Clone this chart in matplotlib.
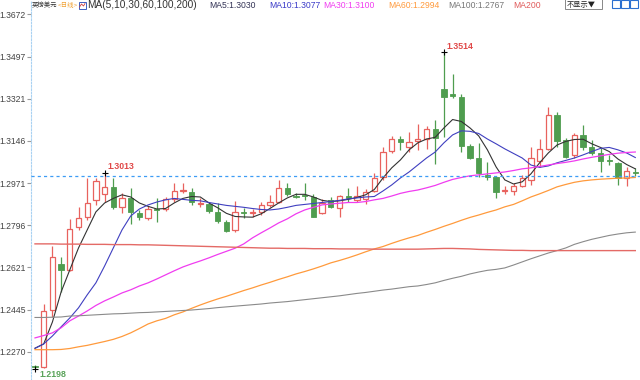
"""
GBP/USD daily candlestick chart with moving averages (MA5 ... MA200).
"""

import numpy as np
import matplotlib
matplotlib.use("Agg")
import matplotlib.pyplot as plt
from matplotlib.patches import Rectangle

plt.rcParams['font.family'] = ['Liberation Sans', 'Noto Sans CJK SC', 'DejaVu Sans']

symbol = "英镑美元"
period = "<日线>"
ma_title = "MA(5,10,30,60,100,200)"

# daily candles, oldest -> newest
opens = [1.2212, 1.2205, 1.2443, 1.2636, 1.2610, 1.2787, 1.2831, 1.2901, 1.2926, 1.2956,
         1.2873, 1.2907, 1.2847, 1.2824, 1.2864, 1.2862, 1.2904, 1.2937, 1.2935, 1.2885,
         1.2883, 1.2852, 1.2811, 1.2776, 1.2852, 1.2846, 1.2852, 1.2880, 1.2894, 1.2951,
         1.2918, 1.2922, 1.2911, 1.2846, 1.2901, 1.2866, 1.2917, 1.2899, 1.2904, 1.2938,
         1.2997, 1.3105, 1.3154, 1.3121, 1.3147, 1.3154, 1.3195, 1.3361, 1.3340, 1.3330,
         1.3125, 1.3074, 1.3003, 1.2998, 1.2938, 1.2939, 1.2959, 1.2984, 1.3064, 1.3112,
         1.3254, 1.3150, 1.3088, 1.3171, 1.3122, 1.3095, 1.3068, 1.3053, 1.2991, 1.3017]
highs = [1.2214, 1.2467, 1.2711, 1.2665, 1.2821, 1.2873, 1.2991, 1.2990, 1.3013, 1.2990,
         1.2930, 1.2951, 1.2859, 1.2876, 1.2909, 1.2913, 1.2973, 1.2970, 1.2949, 1.2908,
         1.2894, 1.2887, 1.2818, 1.2898, 1.2866, 1.2862, 1.2892, 1.2922, 1.2984, 1.2972,
         1.2929, 1.2970, 1.2926, 1.2905, 1.2912, 1.2922, 1.2951, 1.2959, 1.2946, 1.3012,
         1.3120, 1.3167, 1.3167, 1.3183, 1.3216, 1.3208, 1.3233, 1.3514, 1.3425, 1.3341,
         1.3134, 1.3137, 1.3060, 1.3000, 1.2959, 1.2971, 1.3005, 1.3122, 1.3153, 1.3289,
         1.3268, 1.3157, 1.3178, 1.3213, 1.3150, 1.3117, 1.3088, 1.3059, 1.3039, 1.3034]
lows = [1.2198, 1.2203, 1.2416, 1.2519, 1.2606, 1.2776, 1.2817, 1.2880, 1.2894, 1.2862,
        1.2845, 1.2800, 1.2818, 1.2818, 1.2811, 1.2855, 1.2894, 1.2929, 1.2880, 1.2873,
        1.2845, 1.2804, 1.2769, 1.2769, 1.2825, 1.2831, 1.2838, 1.2872, 1.2887, 1.2917,
        1.2908, 1.2900, 1.2829, 1.2843, 1.2866, 1.2831, 1.2894, 1.2894, 1.2884, 1.2934,
        1.2984, 1.3096, 1.3109, 1.3102, 1.3109, 1.3113, 1.3050, 1.3164, 1.3324, 1.3102,
        1.3070, 1.2998, 1.2985, 1.2908, 1.2926, 1.2922, 1.2954, 1.2963, 1.3039, 1.3109,
        1.3122, 1.3074, 1.3074, 1.3109, 1.3088, 1.3018, 1.3046, 1.2963, 1.2959, 1.3000]
closes = [1.2204, 1.2440, 1.2665, 1.2610, 1.2781, 1.2825, 1.2887, 1.2981, 1.2956, 1.2873,
          1.2910, 1.2852, 1.2828, 1.2863, 1.2860, 1.2903, 1.2939, 1.2942, 1.2894, 1.2888,
          1.2856, 1.2815, 1.2772, 1.2852, 1.2846, 1.2849, 1.2880, 1.2894, 1.2949, 1.2926,
          1.2913, 1.2918, 1.2831, 1.2889, 1.2870, 1.2917, 1.2907, 1.2917, 1.2935, 1.2991,
          1.3102, 1.3154, 1.3140, 1.3143, 1.3153, 1.3195, 1.3157, 1.3330, 1.3333, 1.3125,
          1.3077, 1.3012, 1.2998, 1.2934, 1.2941, 1.2959, 1.2991, 1.3074, 1.3112, 1.3254,
          1.3147, 1.3081, 1.3171, 1.3122, 1.3097, 1.3064, 1.3064, 1.2991, 1.3021, 1.3011]

# moving averages as drawn on the chart
ma5 = [1.2284, 1.2302, 1.2393, 1.2518, 1.2610, 1.2701, 1.2776, 1.2851, 1.2888, 1.2907,
       1.2922, 1.2913, 1.2888, 1.2874, 1.2863, 1.2865, 1.2888, 1.2907, 1.2915, 1.2913,
       1.2888, 1.2868, 1.2845, 1.2832, 1.2830, 1.2829, 1.2843, 1.2865, 1.2888, 1.2909,
       1.2924, 1.2924, 1.2913, 1.2899, 1.2894, 1.2897, 1.2903, 1.2911, 1.2922, 1.2944,
       1.2992, 1.3034, 1.3067, 1.3109, 1.3138, 1.3154, 1.3161, 1.3200, 1.3235, 1.3227,
       1.3200, 1.3167, 1.3109, 1.3038, 1.2984, 1.2967, 1.2976, 1.3009, 1.3055, 1.3096,
       1.3129, 1.3144, 1.3152, 1.3153, 1.3134, 1.3119, 1.3102, 1.3071, 1.3048, 1.3030]
ma10 = [1.2284, 1.2302, 1.2335, 1.2373, 1.2410, 1.2452, 1.2506, 1.2556, 1.2626, 1.2701,
        1.2776, 1.2834, 1.2863, 1.2880, 1.2892, 1.2901, 1.2907, 1.2903, 1.2899, 1.2897,
        1.2890, 1.2884, 1.2878, 1.2874, 1.2870, 1.2865, 1.2861, 1.2859, 1.2863, 1.2870,
        1.2878, 1.2882, 1.2886, 1.2890, 1.2894, 1.2899, 1.2905, 1.2909, 1.2913, 1.2915,
        1.2938, 1.2963, 1.2992, 1.3017, 1.3046, 1.3075, 1.3100, 1.3138, 1.3171, 1.3188,
        1.3186, 1.3177, 1.3154, 1.3134, 1.3113, 1.3094, 1.3075, 1.3046, 1.3036, 1.3042,
        1.3055, 1.3065, 1.3075, 1.3088, 1.3102, 1.3115, 1.3119, 1.3109, 1.3096, 1.3077]
ma30 = [1.2327, 1.2337, 1.2348, 1.2369, 1.2398, 1.2418, 1.2439, 1.2462, 1.2481, 1.2497,
        1.2514, 1.2527, 1.2543, 1.2556, 1.2572, 1.2589, 1.2606, 1.2622, 1.2635, 1.2647,
        1.2660, 1.2674, 1.2687, 1.2700, 1.2718, 1.2743, 1.2764, 1.2784, 1.2805, 1.2822,
        1.2843, 1.2859, 1.2870, 1.2880, 1.2884, 1.2887, 1.2890, 1.2890, 1.2894, 1.2901,
        1.2907, 1.2917, 1.2928, 1.2936, 1.2942, 1.2951, 1.2961, 1.2974, 1.2986, 1.2994,
        1.3001, 1.3005, 1.3009, 1.3013, 1.3017, 1.3023, 1.3030, 1.3034, 1.3040, 1.3046,
        1.3052, 1.3057, 1.3063, 1.3071, 1.3078, 1.3084, 1.3090, 1.3095, 1.3098, 1.3100]
ma60 = [1.2278, 1.2278, 1.2278, 1.2279, 1.2283, 1.2290, 1.2296, 1.2304, 1.2312, 1.2321,
        1.2333, 1.2348, 1.2366, 1.2385, 1.2398, 1.2408, 1.2423, 1.2435, 1.2450, 1.2464,
        1.2477, 1.2489, 1.2500, 1.2512, 1.2524, 1.2535, 1.2547, 1.2558, 1.2570, 1.2581,
        1.2593, 1.2603, 1.2614, 1.2626, 1.2639, 1.2649, 1.2660, 1.2672, 1.2685, 1.2697,
        1.2707, 1.2720, 1.2732, 1.2743, 1.2753, 1.2766, 1.2778, 1.2791, 1.2803, 1.2816,
        1.2828, 1.2838, 1.2849, 1.2859, 1.2872, 1.2882, 1.2897, 1.2913, 1.2926, 1.2940,
        1.2955, 1.2965, 1.2974, 1.2980, 1.2984, 1.2987, 1.2989, 1.2991, 1.2992, 1.2994]
ma100 = [1.2412, 1.2412, 1.2413, 1.2414, 1.2418, 1.2419, 1.2421, 1.2423, 1.2425, 1.2427,
         1.2428, 1.2430, 1.2432, 1.2433, 1.2435, 1.2437, 1.2439, 1.2441, 1.2443, 1.2446,
         1.2449, 1.2453, 1.2456, 1.2459, 1.2462, 1.2465, 1.2468, 1.2472, 1.2475, 1.2478,
         1.2482, 1.2486, 1.2490, 1.2494, 1.2498, 1.2502, 1.2507, 1.2512, 1.2516, 1.2521,
         1.2526, 1.2530, 1.2535, 1.2540, 1.2543, 1.2549, 1.2556, 1.2566, 1.2575, 1.2583,
         1.2593, 1.2601, 1.2608, 1.2612, 1.2618, 1.2630, 1.2643, 1.2656, 1.2668, 1.2680,
         1.2690, 1.2701, 1.2716, 1.2727, 1.2737, 1.2745, 1.2753, 1.2759, 1.2764, 1.2767]
ma200 = [1.2718, 1.2718, 1.2718, 1.2717, 1.2717, 1.2717, 1.2716, 1.2716, 1.2716, 1.2715,
         1.2715, 1.2715, 1.2714, 1.2714, 1.2713, 1.2712, 1.2711, 1.2710, 1.2709, 1.2708,
         1.2707, 1.2706, 1.2705, 1.2704, 1.2703, 1.2702, 1.2701, 1.2700, 1.2700, 1.2699,
         1.2699, 1.2699, 1.2698, 1.2698, 1.2698, 1.2697, 1.2697, 1.2697, 1.2697, 1.2696,
         1.2696, 1.2696, 1.2696, 1.2696, 1.2696, 1.2697, 1.2698, 1.2699, 1.2699, 1.2698,
         1.2697, 1.2695, 1.2694, 1.2693, 1.2692, 1.2691, 1.2691, 1.2690, 1.2690, 1.2690,
         1.2690, 1.2690, 1.2690, 1.2690, 1.2690, 1.2690, 1.2690, 1.2690, 1.2690, 1.2690]

y_ticks = [1.2270, 1.2445, 1.2621, 1.2796, 1.2971, 1.3146, 1.3321, 1.3497, 1.3672]
last_price = 1.2999

UP = '#e8625e'
DOWN = '#4f9d4f'
ma_styles = [  # name, values, color, width, show value in header
    ('MA5', ma5, '#333333', 0.8, True),
    ('MA10', ma10, '#3f3fc0', 0.8, True),
    ('MA30', ma30, '#f03cf0', 0.9, True),
    ('MA60', ma60, '#ff9a3c', 0.9, True),
    ('MA100', ma100, '#8a8a8a', 0.8, True),
    ('MA200', ma200, '#e46a66', 1.0, False),
]
label_colors = ['#333355', '#3a3ac8', '#f03cf0', '#ff9a3c', '#777777', '#e05a5a']

W, H = 640, 380
fig = plt.figure(figsize=(W / 100, H / 100), dpi=100)
ax = fig.add_axes([31 / W, 0, 1 - 31 / W, 1])

x = np.arange(len(closes))
o = np.array(opens); h = np.array(highs); l = np.array(lows); c = np.array(closes)
up = c >= o
body_lo = np.minimum(o, c)
body_hi = np.maximum(o, c)
bw = 0.6

# wicks
ax.vlines(x[~up], l[~up], h[~up], color=DOWN, lw=0.9, zorder=2)
ax.vlines(x[up], l[up], body_lo[up], color=UP, lw=0.9, zorder=2)
ax.vlines(x[up], body_hi[up], h[up], color=UP, lw=0.9, zorder=2)

# bodies
for i in x:
    height = max(body_hi[i] - body_lo[i], 0.00004)
    if up[i]:
        ax.add_patch(Rectangle((i - bw / 2, body_lo[i]), bw, height,
                               facecolor='white', edgecolor=UP, lw=0.9, zorder=3))
    else:
        ax.add_patch(Rectangle((i - bw / 2, body_lo[i]), bw, height,
                               facecolor=DOWN, edgecolor=DOWN, lw=0.6, zorder=3))

# moving averages
for name, vals, col, lw, _ in ma_styles:
    ax.plot(x, vals, color=col, lw=lw, zorder=4)

# current price line
ax.axhline(last_price, color='#3d9cf5', lw=0.9, ls=(0, (2.5, 2.5)), zorder=5)

# high / low markers
ih = int(np.argmax(h))
il = int(np.argmin(l))
i_first_hi = int(np.argmax(h[:30]))
for i in (ih, i_first_hi):
    ax.plot(i, h[i], marker='+', ms=4, mew=0.8, color='black', zorder=6)
    ax.annotate(f"{h[i]:.4f}", (i, h[i]), xytext=(3, 6), textcoords='offset pixels',
                fontsize=6.3, fontweight='bold', color='#e04848', va='center', ha='left')
ax.plot(il, l[il], marker='+', ms=4, mew=0.8, color='black', zorder=6)
ax.annotate(f"{l[il]:.4f}", (il, l[il]), xytext=(4, -6), textcoords='offset pixels',
            fontsize=6.3, fontweight='bold', color='#5aa35a', va='center', ha='left')

ax.set_xlim(-0.46, len(closes) - 0.46)
ax.set_ylim(1.2152, 1.3732)
ax.set_yticks(y_ticks)
ax.set_yticklabels([f"{v:.4f}" for v in y_ticks])
ax.tick_params(axis='y', length=3, width=0.8, color='#999999', pad=0.5,
               labelsize=6.2, labelcolor='#444444')
ax.set_xticks([])
for s in ('top', 'right', 'bottom'):
    ax.spines[s].set_visible(False)
ax.spines['left'].set_color('#a9d2f2')
ax.spines['left'].set_linestyle((0, (1.5, 1.5)))
ax.spines['left'].set_linewidth(0.8)

# header line
ty = 1 - 5.5 / H
fig.text(32 / W, ty, symbol, fontsize=4.6, color='#333333', va='center')
fig.text(58 / W, ty, period, fontsize=4.6, color='#f0a030', va='center')
fig.patches.append(Rectangle((78.5 / W, 1 - 9 / H), 7 / W, 7 / H, transform=fig.transFigure,
                             facecolor='white', edgecolor='#4060c0', lw=0.7))
fig.lines.append(plt.Line2D([79.5 / W, 81.5 / W, 83.5 / W, 85 / W],
                            [1 - 7 / H, 1 - 4 / H, 1 - 6 / H, 1 - 3.5 / H],
                            transform=fig.transFigure, color='#d04040', lw=0.6))
fig.text(87.5 / W, ty, ma_title, fontsize=7.3, color='#333333', va='center')
label_x = [209, 269, 323, 388, 448, 513]
for (name, vals, col, lw, show), lx, lc in zip(ma_styles, label_x, label_colors):
    txt = f"{name}:{vals[-1]:.4f}" if show else name
    fig.text(lx / W, ty, txt, fontsize=6.2, color=lc, va='center')

# dropdown and small buttons at top right
fig.patches.append(Rectangle((565 / W, 1 - 9 / H), 37 / W, 10 / H, transform=fig.transFigure,
                             facecolor='white', edgecolor='#888888', lw=0.7))
fig.text(567 / W, 1 - 4.5 / H, "不显示▼", fontsize=5.2, color='#222222', va='center',
         family=['Noto Sans CJK SC', 'DejaVu Sans'])
for bx in (612, 621, 630):
    fig.patches.append(Rectangle((bx / W, 1 - 8 / H), 8 / W, 8 / H, transform=fig.transFigure,
                                 facecolor='white', edgecolor='#2a6fd0', lw=0.8))

fig.savefig('out.png', dpi=100)
